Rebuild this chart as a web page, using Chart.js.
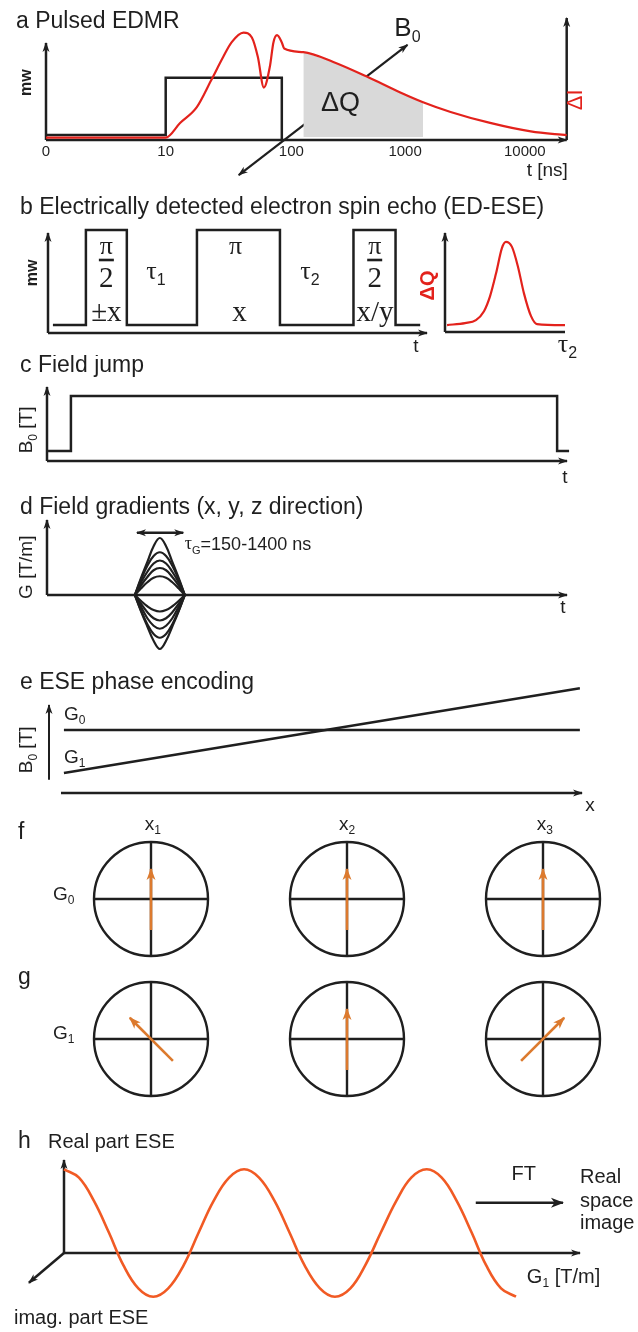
<!DOCTYPE html>
<html>
<head>
<meta charset="utf-8">
<script src="https://cdn.jsdelivr.net/npm/chart.js@4.4.1/dist/chart.umd.min.js"></script>
<style>
  body { margin: 0; background: #fff; }
  #page { position: relative; width: 638px; height: 1332px; overflow: hidden; }
  canvas { position: absolute; }
</style>
</head>
<body>
<div id="page"></div>
<script>
// ---- a: pulsed EDMR, x in decades of t [ns] ----
const edmrTicks = [0, 1, 2.05, 3, 4];
const edmrTickLabels = ['0', '10', '100', '1000', '10000'];
const pulseT = [0, 1, 1, 1.97, 1.97];
const pulseMw = [0.04, 0.04, 0.51, 0.51, 0];
const edmrT = [0, 1.0, 1.12, 1.26, 1.38, 1.48, 1.55, 1.65, 1.72, 1.77, 1.82, 1.87, 1.90, 1.93, 1.97, 1.99, 2.15, 2.40, 2.68, 2.96, 3.15, 3.38, 3.71, 4.05, 4.35];
const edmrI = [0.02, 0.02, 0.14, 0.27, 0.49, 0.68, 0.80, 0.88, 0.84, 0.68, 0.43, 0.60, 0.80, 0.86, 0.80, 0.75, 0.72, 0.64, 0.52, 0.39, 0.31, 0.23, 0.14, 0.07, 0.04];
const chargeT = [2.15, 2.40, 2.68, 2.96, 3.15];
const chargeI = [0.72, 0.64, 0.52, 0.39, 0.31];

// ---- b: ED-ESE sequence and echo ----
const seqT = [1.3, 10, 10, 20.8, 20.8, 39.3, 39.3, 61.2, 61.2, 80.6, 80.6, 91.7, 91.7, 98.2];
const seqMw = [0.08, 0.08, 1.03, 1.03, 0.08, 0.08, 1.03, 1.03, 0.08, 0.08, 1.03, 1.03, 0.08, 0.08];
const echoTau = [1.7, 16.7, 25.8, 32.5, 37.5, 42.5, 47.5, 50.8, 55.8, 60.8, 65.8, 71.7, 76.7, 100];
const echoQ = [0.07, 0.09, 0.12, 0.21, 0.36, 0.59, 0.85, 0.91, 0.86, 0.66, 0.39, 0.16, 0.08, 0.07];

// ---- c: field jump ----
const jumpT = [0.2, 4.6, 4.6, 98.1, 98.1, 100.4];
const jumpB = [0.135, 0.135, 0.88, 0.88, 0.135, 0.135];

// ---- d: gradient pulses ----
const gradT = [16.9, 18.1, 19.3, 20.5, 21.7, 22.9, 24.1, 25.3, 26.5];
const gradG = [
  [0, 0.23, 0.44, 0.65, 0.76, 0.65, 0.44, 0.23, 0],
  [0, 0.21, 0.39, 0.52, 0.57, 0.52, 0.39, 0.21, 0],
  [0, 0.17, 0.31, 0.42, 0.46, 0.42, 0.31, 0.17, 0],
  [0, 0.13, 0.24, 0.33, 0.36, 0.33, 0.24, 0.13, 0],
  [0, 0.09, 0.17, 0.23, 0.25, 0.23, 0.17, 0.09, 0],
  [0, -0.22, -0.42, -0.61, -0.72, -0.61, -0.42, -0.22, 0],
  [0, -0.21, -0.39, -0.52, -0.57, -0.52, -0.39, -0.21, 0],
  [0, -0.16, -0.31, -0.41, -0.45, -0.41, -0.31, -0.16, 0],
  [0, -0.12, -0.23, -0.31, -0.34, -0.31, -0.23, -0.12, 0],
  [0, -0.08, -0.15, -0.20, -0.22, -0.20, -0.15, -0.08, 0]
];

// ---- e: phase encoding ----
const posX = [2.8, 99.6];
const fieldG0 = [0.716, 0.716];
const fieldG1 = [0.227, 1.19];

// ---- f, g: spin phase at x1, x2, x3 ----
const dialX = [1, 2, 3];
const phaseG0 = [90, 90, 90];
const phaseG1 = [135, 90, 45];

// ---- h: real part of ESE vs G1 ----
const realG = [0, 2.9, 5.8, 8.7, 11.5, 14.4, 17.3,
  20.2, 23.2, 26.1, 29.0, 32.0, 34.9,
  37.8, 40.8, 43.7, 46.6, 49.6, 52.5,
  55.5, 58.4, 61.4, 64.4, 67.3, 70.3,
  73.2, 76.1, 79.0, 81.8, 84.7, 87.6];
const realS = [0.90, 0.81, 0.56, 0.22, -0.13, -0.38, -0.47,
  -0.38, -0.13, 0.22, 0.56, 0.81, 0.90,
  0.81, 0.56, 0.22, -0.13, -0.38, -0.47,
  -0.38, -0.13, 0.22, 0.56, 0.81, 0.90,
  0.81, 0.56, 0.22, -0.13, -0.38, -0.47];

const SANS = '"Liberation Sans", Arial, sans-serif';
const SERIF = '"Liberation Serif", "Times New Roman", serif';
const INK = '#1f1f1f', RED = '#e3221c', ORANGE = '#dc7a2e', SINE = '#f15a24';

const NOTES = new Map();

const notesPlugin = {
  id: 'notes',
  afterDraw(chart) {
    const cfg = NOTES.get(chart.canvas);
    if (!cfg) return;
    const { ctx } = chart;
    const sx = chart.scales.x, sy = chart.scales.y;
    cfg.items.forEach(it => {
      const px = it.page ? it.page[0] - cfg.left : sx.getPixelForValue(it.x);
      const py = it.page ? it.page[1] - cfg.top : sy.getPixelForValue(it.y);
      ctx.save();
      ctx.translate(px, py);
      if (it.rot) ctx.rotate(it.rot * Math.PI / 180);
      ctx.fillStyle = it.color || INK;
      if (it.bar) {
        ctx.fillRect(-it.bar / 2, -1.3, it.bar, 2.6);
        ctx.restore();
        return;
      }
      const size = it.size || 19;
      const parts = it.parts || [{ t: it.text }];
      const fonts = parts.map(p => {
        const serif = p.serif !== undefined ? p.serif : it.serif;
        const s = p.sub ? Math.round(size * 0.62) : size;
        return (it.bold ? 'bold ' : '') + s + 'px ' + (serif ? SERIF : SANS);
      });
      const widths = parts.map((p, i) => { ctx.font = fonts[i]; return ctx.measureText(p.t).width; });
      const total = widths.reduce((a, b) => a + b, 0);
      let cx = it.align === 'left' ? 0 : it.align === 'right' ? -total : -total / 2;
      ctx.textBaseline = 'middle';
      ctx.textAlign = 'left';
      parts.forEach((p, i) => {
        ctx.font = fonts[i];
        ctx.fillText(p.t, cx, p.sub ? size * 0.32 : 0);
        cx += widths[i];
      });
      ctx.restore();
    });
  }
};

const arrowPlugin = {
  id: 'arrowHeads',
  afterDatasetsDraw(chart) {
    const ctx = chart.ctx;
    chart.data.datasets.forEach((ds, i) => {
      if (!ds.arrow) return;
      const p = chart.getDatasetMeta(i).data;
      const n = p.length;
      const L = ds.headLen || 9, W = ds.headWidth || 3.5;
      const head = (tip, from) => {
        const a = Math.atan2(tip.y - from.y, tip.x - from.x);
        ctx.save();
        ctx.translate(tip.x, tip.y);
        ctx.rotate(a);
        ctx.fillStyle = ds.borderColor;
        ctx.beginPath();
        ctx.moveTo(1, 0);
        ctx.lineTo(-L, -W);
        ctx.lineTo(-L * 0.7, 0);
        ctx.lineTo(-L, W);
        ctx.closePath();
        ctx.fill();
        ctx.restore();
      };
      if (ds.arrow !== 'start') head(p[n - 1], p[n - 2]);
      if (ds.arrow !== 'end') head(p[0], p[1]);
    });
  }
};

Chart.register(notesPlugin, arrowPlugin);

const pts = (xs, ys) => xs.map((x, i) => ({ x, y: ys[i] }));

function line(xs, ys, o = {}) {
  return Object.assign({
    data: pts(xs, ys), borderColor: INK, borderWidth: 2.5, pointRadius: 0,
    tension: 0, fill: false, clip: false, showLine: true
  }, o);
}

// value at pixel lo / hi given two reference pixel-value pairs
function range(p0, v0, p1, v1, lo, hi) {
  const k = (v1 - v0) / (p1 - p0);
  return [v0 + (lo - p0) * k, v0 + (hi - p0) * k];
}

function panel(box, xm, ym, datasets, items) {
  const [left, top, width, height] = box;
  const c = document.createElement('canvas');
  c.width = width;
  c.height = height;
  c.style.left = left + 'px';
  c.style.top = top + 'px';
  document.getElementById('page').appendChild(c);
  NOTES.set(c, { items, top, left });
  const [xmin, xmax] = range(xm[0] - left, xm[1], xm[2] - left, xm[3], 0, width);
  const [ymax, ymin] = range(ym[0] - top, ym[1], ym[2] - top, ym[3], 0, height);
  return new Chart(c, {
    type: 'line',
    data: { datasets },
    options: {
      responsive: false,
      animation: false,
      events: [],
      layout: { padding: 0, autoPadding: false },
      scales: {
        x: { type: 'linear', display: false, min: xmin, max: xmax },
        y: { type: 'linear', display: false, min: ymin, max: ymax }
      },
      plugins: { legend: { display: false }, tooltip: { enabled: false } }
    }
  });
}

const sub = (a, b, rest) => [{ t: a }, { t: b, sub: true }].concat(rest ? [{ t: rest }] : []);

// a Pulsed EDMR
panel([0, 0, 638, 190], [46, 0, 165.7, 1], [140, 0, 18, 1], [
  line(edmrT, edmrI, { borderColor: RED, borderWidth: 2.2, cubicInterpolationMode: 'monotone' }),
  line(chargeT, chargeI, { borderWidth: 0, borderColor: '#d9d9d9', backgroundColor: '#d9d9d9', fill: { value: 0.025 } }),
  line([1.61, 3.02], [-0.287, 0.78], { borderWidth: 2.2, arrow: 'both' }),
  line(pulseT, pulseMw),
  line([0, 0], [0, 0.795], { arrow: 'end' }),
  line([0, 4.35], [0, 0], { arrow: 'end' }),
  line([4.35, 4.35], [0, 1], { arrow: 'end' })
], [
  { page: [16, 22], text: 'a Pulsed EDMR', size: 23, align: 'left' },
  { x: -0.16, y: 0.47, text: 'mw', size: 16, bold: true, rot: -90 },
  ...edmrTicks.map((v, i) => ({ x: v, y: -0.1, text: edmrTickLabels[i], size: 15 })),
  { x: 4.36, y: -0.25, text: 't [ns]', size: 19, align: 'right' },
  { x: 2.46, y: 0.30, text: 'ΔQ', size: 27 },
  { x: 2.91, y: 0.91, parts: sub('B', '0'), size: 26, align: 'left' },
  { x: 4.43, y: 0.33, text: 'ΔI', size: 22, color: RED, rot: -90 }
]);

// b ED-ESE pulse sequence
const frac = (x) => [
  { x, y: 0.86, text: 'π', size: 26, serif: true },
  { x, y: 0.73, bar: 15 },
  { x, y: 0.54, text: '2', size: 29, serif: true }
];
panel([0, 190, 638, 170], [48, 0, 427, 100], [333, 0, 233, 1], [
  line(seqT, seqMw),
  line([0, 0], [0, 1], { arrow: 'end' }),
  line([0, 100], [0, 0], { arrow: 'end' })
], [
  { page: [20, 208], text: 'b Electrically detected electron spin echo (ED-ESE)', size: 23, align: 'left' },
  { x: -4, y: 0.6, text: 'mw', size: 16, bold: true, rot: -90 },
  ...frac(15.4),
  { x: 15.4, y: 0.20, text: '±x', size: 29, serif: true },
  { x: 28.5, y: 0.61, parts: [{ t: 'τ', serif: true }, { t: '1', sub: true }], size: 26 },
  { x: 49.5, y: 0.86, text: 'π', size: 26, serif: true },
  { x: 50.5, y: 0.20, text: 'x', size: 29, serif: true },
  { x: 69.1, y: 0.61, parts: [{ t: 'τ', serif: true }, { t: '2', sub: true }], size: 26 },
  ...frac(86.2),
  { x: 86.3, y: 0.20, text: 'x/y', size: 29, serif: true },
  { x: 97.1, y: -0.14, text: 't', size: 19 }
]);

// b echo
panel([380, 220, 258, 140], [445, 0, 565, 100], [332, 0, 233, 1], [
  line(echoTau, echoQ, { borderColor: RED, borderWidth: 2.2, cubicInterpolationMode: 'monotone' }),
  line([0, 0], [0, 1], { arrow: 'end' }),
  line([0, 100], [0, 0])
], [
  { x: -14, y: 0.47, text: 'ΔQ', size: 20, color: RED, bold: true, rot: -90 },
  { x: 102, y: -0.13, parts: [{ t: 'τ', serif: true }, { t: '2', sub: true }], size: 26 }
]);

// c Field jump
panel([0, 355, 638, 130], [47, 0, 567, 100], [461, 0, 387, 1], [
  line(jumpT, jumpB),
  line([0, 0], [0, 1], { arrow: 'end' }),
  line([0, 100], [0, 0], { arrow: 'end' })
], [
  { page: [20, 366], text: 'c Field jump', size: 23, align: 'left' },
  { x: 99.6, y: -0.22, text: 't', size: 19 },
  { x: -3.8, y: 0.42, parts: sub('B', '0', ' [T]'), size: 19, rot: -90 }
]);

// d Field gradients
panel([0, 490, 638, 175], [47, 0, 567, 100], [595, 0, 520, 1], [
  ...gradG.map(g => line(gradT, g, { borderWidth: 2.2, tension: 0.4 })),
  line([17.3, 26.2], [0.83, 0.83], { arrow: 'both', borderWidth: 2.5 }),
  line([0, 0], [0, 1], { arrow: 'end' }),
  line([0, 100], [0, 0], { arrow: 'end' })
], [
  { page: [20, 508], text: 'd Field gradients (x, y, z direction)', size: 23, align: 'left' },
  { x: -3.8, y: 0.37, text: 'G [T/m]', size: 19, rot: -90 },
  { x: 99.2, y: -0.17, text: 't', size: 19 },
  { x: 26.5, y: 0.67, parts: [{ t: 'τ', serif: true }, { t: 'G', sub: true }, { t: '=150-1400 ns' }], size: 18, align: 'left' }
]);

// e ESE phase encoding
panel([0, 665, 638, 150], [49, 0, 582, 100], [793, 0, 705, 1], [
  line(posX, fieldG0),
  line(posX, fieldG1),
  line([0, 0], [0.15, 1], { arrow: 'end', borderWidth: 2 }),
  line([2.25, 100], [0, 0], { arrow: 'end' })
], [
  { page: [20, 683], text: 'e ESE phase encoding', size: 23, align: 'left' },
  { x: 2.8, y: 0.89, parts: sub('G', '0'), size: 19, align: 'left' },
  { x: 2.8, y: 0.40, parts: sub('G', '1'), size: 19, align: 'left' },
  { x: -4.1, y: 0.49, parts: sub('B', '0', ' [T]'), size: 19, rot: -90 },
  { x: 101.5, y: -0.14, text: 'x', size: 19 }
]);

// f, g spin phase dials
const FG_X = [151, 1, 347, 2], FG_Y = [1039, 0, 899, 1];
const pxPerX = (FG_X[2] - FG_X[0]) / (FG_X[3] - FG_X[1]);
const pxPerY = (FG_Y[0] - FG_Y[2]) / (FG_Y[3] - FG_Y[1]);
const spin = (cx, cy, deg) => {
  const a = deg * Math.PI / 180, back = 31, fwd = 30;
  const ux = Math.cos(a) / pxPerX, uy = Math.sin(a) / pxPerY;
  return line([cx - back * ux, cx + fwd * ux], [cy - back * uy, cy + fwd * uy],
    { borderColor: ORANGE, borderWidth: 2.6, arrow: 'end', headLen: 11, headWidth: 4.5 });
};
const dialCenters = dialX.map(x => ({ x, y: 1 })).concat(dialX.map(x => ({ x, y: 0 })));
panel([0, 800, 638, 310], FG_X, FG_Y, [
  ...dialX.map((x, i) => spin(x, 1, phaseG0[i])),
  ...dialX.map((x, i) => spin(x, 0, phaseG1[i])),
  { data: dialCenters, showLine: false, pointStyle: 'cross', pointRadius: 57, pointBorderColor: INK, pointBorderWidth: 2.4, clip: false },
  { data: dialCenters, showLine: false, pointStyle: 'circle', pointRadius: 57, pointBorderColor: INK, pointBorderWidth: 2.4, pointBackgroundColor: 'rgba(0,0,0,0)', clip: false }
], [
  { page: [18, 833], text: 'f', size: 23, align: 'left' },
  { page: [18, 978], text: 'g', size: 23, align: 'left' },
  { x: 1.01, y: 1.53, parts: sub('x', '1'), size: 19 },
  { x: 2.0, y: 1.53, parts: sub('x', '2'), size: 19 },
  { x: 3.01, y: 1.53, parts: sub('x', '3'), size: 19 },
  { x: 0.5, y: 1.03, parts: sub('G', '0'), size: 19, align: 'left' },
  { x: 0.5, y: 0.04, parts: sub('G', '1'), size: 19, align: 'left' }
]);

// h real part ESE
panel([0, 1110, 638, 222], [64, 0, 580, 100], [1253, 0, 1160, 1], [
  line(realG, realS, { borderColor: SINE, borderWidth: 2.6, tension: 0.4 }),
  line([0, 0], [0, 1], { arrow: 'end' }),
  line([0, 100], [0, 0], { arrow: 'end' }),
  line([0, -6.8], [0, -0.32], { arrow: 'end' }),
  line([79.8, 96.7], [0.54, 0.54], { arrow: 'end', headLen: 12, headWidth: 5 })
], [
  { page: [18, 1142], text: 'h', size: 23, align: 'left' },
  { x: -3.1, y: 1.19, text: 'Real part ESE', size: 20, align: 'left' },
  { x: -9.7, y: -0.70, text: 'imag. part ESE', size: 20, align: 'left' },
  { x: 89.1, y: 0.84, text: 'FT', size: 20 },
  { x: 100, y: 0.81, text: 'Real', size: 20, align: 'left' },
  { x: 100, y: 0.55, text: 'space', size: 20, align: 'left' },
  { x: 100, y: 0.32, text: 'image', size: 20, align: 'left' },
  { x: 89.7, y: -0.26, parts: sub('G', '1', ' [T/m]'), size: 20, align: 'left' }
]);
</script>
</body>
</html>
